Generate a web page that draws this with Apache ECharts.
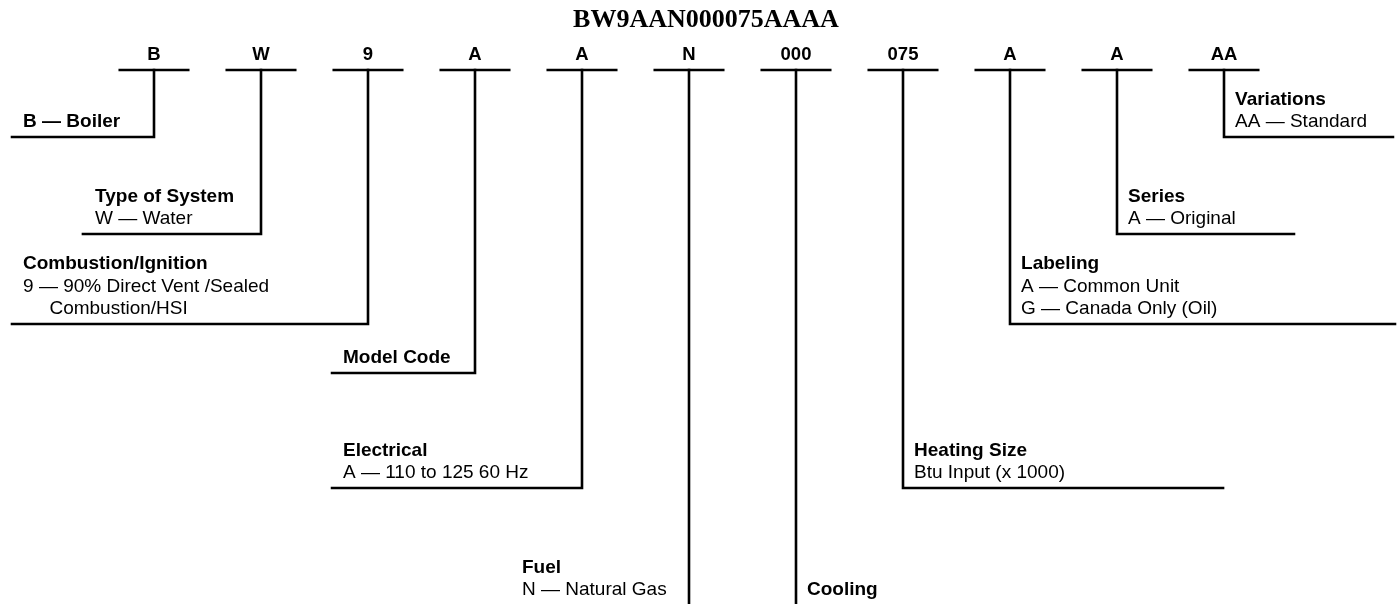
<!DOCTYPE html>
<html><head><meta charset="utf-8">
<script src="https://cdn.jsdelivr.net/npm/echarts@6/dist/echarts.min.js"></script>
<style>html,body{margin:0;padding:0;background:#fff}#c{width:1397px;height:604px}</style>
</head><body><div id="c"></div>
<script>
// ---- data ----
const modelNumber = 'BW9AAN000075AAAA';
const codes = ['B', 'W', '9', 'A', 'A', 'N', '000', '075', 'A', 'A', 'AA'];
const fieldTitles = ['B — Boiler', 'Type of System', 'Combustion/Ignition', 'Model Code', 'Electrical',
  'Fuel', 'Cooling', 'Heating Size', 'Labeling', 'Series', 'Variations'];
const fieldLines = [
  [],
  ['W — Water'],
  ['9 — 90% Direct Vent /Sealed', '     Combustion/HSI'],
  [],
  ['A — 110 to 125 60 Hz'],
  ['N — Natural Gas'],
  [],
  ['Btu Input (x 1000)'],
  ['A — Common Unit', 'G — Canada Only (Oil)'],
  ['A — Original'],
  ['AA — Standard']
];
// leader depth (y, px units from top) and horizontal end (x, in code-slot units)
const leaderDepth = [137, 234, 324, 373, 488, 605, 605, 488, 324, 234, 137];
const leaderEnd = [-1.327, -0.664, -1.327, 1.664, 1.664, null, null, 9.991, 11.598, 10.654, 11.579];
const textLeft = [-1.224, -0.551, -1.224, 1.766, 1.766, 3.439, 6.103, 7.103, 8.103, 9.103, 10.103];

// ---- layout constants ----
const BAR_Y = 70, CODE_Y = 54.5, BAR_HALF = 0.332, LAST_GAP = 15, ROW = 22.5;
const SANS = 'Liberation Sans, Arial, Helvetica, sans-serif';

const barData = codes.map((c, i) => ({ coords: [[i - BAR_HALF, BAR_Y], [i + BAR_HALF, BAR_Y]] }));
const leaderData = codes.map((c, i) => {
  const pts = [[i, BAR_Y], [i, leaderDepth[i]]];
  if (leaderEnd[i] !== null) pts.push([leaderEnd[i], leaderDepth[i]]);
  return { coords: pts };
});

const boldText = codes.map((c, i) => ({ name: c, value: [i, CODE_Y], label: { align: 'center', fontSize: 18.5 } }));
const regText = [];
fieldTitles.forEach((t, i) => {
  const lines = fieldLines[i];
  const n = lines.length;
  lines.forEach((ln, k) => {
    const y = leaderDepth[i] - LAST_GAP - ROW * (n - 1 - k);
    regText.push({ name: ln, value: [textLeft[i], y] });
  });
  boldText.push({ name: t, value: [textLeft[i], leaderDepth[i] - LAST_GAP - ROW * n] });
});

const labelBase = {
  show: true, position: 'inside', align: 'left', verticalAlign: 'middle',
  formatter: p => p.name, color: '#000', opacity: 1, textBorderWidth: 0, textShadowBlur: 0,
  fontFamily: SANS, fontSize: 19
};

const chart = echarts.init(document.getElementById('c'), null, { renderer: 'canvas' });
chart.setOption({
  animation: false,
  backgroundColor: '#fff',
  textStyle: { color: '#000' },
  title: {
    text: modelNumber, left: 706, top: 7, textAlign: 'center', padding: 0,
    textStyle: { fontFamily: 'Liberation Serif, Times New Roman, serif', fontWeight: 'bold', fontSize: 26, color: '#000' }
  },
  grid: { left: 0, right: 0, top: 0, bottom: 0 },
  xAxis: { type: 'value', min: -154 / 107, max: (1397 - 154) / 107, show: false },
  yAxis: { type: 'value', min: 0, max: 604, inverse: true, show: false },
  series: [
    {
      type: 'lines', coordinateSystem: 'cartesian2d', polyline: true, silent: true,
      lineStyle: { color: '#000', width: 2.6, opacity: 1 }, data: barData
    },
    {
      type: 'lines', coordinateSystem: 'cartesian2d', polyline: true, silent: true,
      lineStyle: { color: '#000', width: 2.6, opacity: 1, join: 'miter', cap: 'square' }, data: leaderData
    },
    {
      type: 'scatter', symbolSize: 1, itemStyle: { color: '#fff', opacity: 1 }, silent: true, z: 5,
      label: Object.assign({}, labelBase, { fontWeight: 'bold' }),
      data: boldText
    },
    {
      type: 'scatter', symbolSize: 1, itemStyle: { color: '#fff', opacity: 1 }, silent: true, z: 5,
      label: Object.assign({}, labelBase, { fontWeight: 'normal' }),
      data: regText
    }
  ]
});
</script></body></html>
